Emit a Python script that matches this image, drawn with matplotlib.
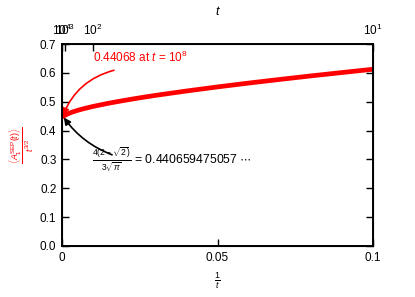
import matplotlib
matplotlib.use("Agg")
import matplotlib.pyplot as plt

plt.rcParams['font.family'] = ['Liberation Sans', 'DejaVu Sans']
plt.rcParams['mathtext.fontset'] = 'custom'
plt.rcParams['mathtext.rm'] = 'Liberation Sans'
plt.rcParams['mathtext.it'] = 'Liberation Sans:italic'
plt.rcParams['mathtext.bf'] = 'Liberation Sans:bold'

# data: x = 1/t, y = <A_1^SEP(t)>/t^{3/2}
inv_t = [0.1, 0.09, 0.08, 0.07, 0.06, 0.05, 0.04, 0.03, 0.025, 0.02, 0.015,
         0.01, 0.007, 0.005, 0.003, 0.002, 0.001, 0.0005, 0.0002, 0.0001,
         0.00001, 0.000001, 0.00000001]
ratio = [0.6125, 0.6011, 0.5894, 0.5772, 0.5646, 0.5513, 0.5371, 0.5218, 0.5135,
         0.5045, 0.4948, 0.4837, 0.4759, 0.4700, 0.4630, 0.4586, 0.4532, 0.4497,
         0.4461, 0.4445, 0.4419, 0.4411, 0.44068]

xticks = [0, 0.05, 0.1]
xtick_labels = ['0', '0.05', '0.1']
yticks = [0.0, 0.1, 0.2, 0.3, 0.4, 0.5, 0.6, 0.7]
top_t = [10, 100, 1000, 10**4]
top_labels = ['$10^1$', '$10^2$', '$10^3$', '$10^4$']

fig = plt.figure(figsize=(4.15, 2.97), dpi=100)
ax = fig.add_axes([62/415, 1-246/297, 311/415, 202/297])

ax.plot(inv_t, ratio, color='red', lw=3.4, solid_capstyle='butt')
ax.set_xlim(0, 0.1)
ax.set_ylim(0, 0.7)
ax.set_xticks(xticks)
ax.set_xticklabels(xtick_labels)
ax.set_yticks(yticks)
ax.set_yticklabels([f'{v:.1f}' for v in yticks])
ax.tick_params(direction='in', length=5, width=1, labelsize=8.5, right=True, top=False, pad=4)
for s in ax.spines.values():
    s.set_linewidth(1.4)

ax.set_xlabel(r'$\frac{1}{t}$', fontsize=9, labelpad=5)
ax.set_ylabel(r'$\frac{\langle A_1^{\rm SEP}(t)\rangle}{t^{3/2}}$', color='red', fontsize=9, labelpad=2)

ax2 = ax.twiny()
ax2.set_xlim(0, 0.1)
ax2.set_xticks([1.0/t for t in top_t])
ax2.set_xticklabels(top_labels)
ax2.tick_params(direction='in', length=5, width=1, labelsize=8.5, pad=4)
ax2.set_xlabel('$t$', fontsize=9, labelpad=6)

ax.text(0.0100, 0.637, r'0.44068 at $t$ = $10^8$', color='red', fontsize=8.5,
        ha='left', va='baseline')
ax.annotate('', xy=(0.0003, 0.452), xytext=(0.0167, 0.609),
            arrowprops=dict(arrowstyle='-|>', color='red', lw=1.2,
                            shrinkA=0, shrinkB=0,
                            connectionstyle='arc3,rad=0.25'))
ax.annotate('', xy=(0.0006, 0.445), xytext=(0.0161, 0.316),
            arrowprops=dict(arrowstyle='-|>', color='black', lw=1.2,
                            shrinkA=0, shrinkB=0,
                            connectionstyle='arc3,rad=-0.15'))
ax.text(0.0098, 0.298, r'$\frac{4(2-\sqrt{2})}{3\sqrt{\pi}}$ = 0.440659475057 $\cdots$',
        fontsize=8.8, ha='left', va='center', color='black')

fig.savefig('out.png', dpi=100)
